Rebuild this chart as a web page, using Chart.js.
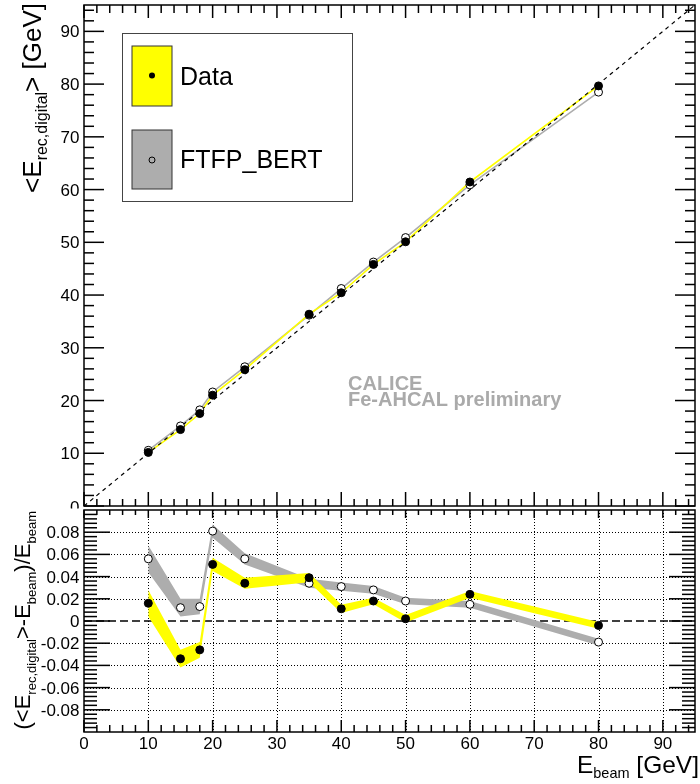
<!DOCTYPE html>
<html>
<head>
<meta charset="utf-8">
<script src="https://cdn.jsdelivr.net/npm/chart.js@4.4.0/dist/chart.umd.min.js"></script>
<style>
  body { margin: 0; background: #fff; }
  #wrap { position: relative; width: 700px; height: 784px; }
  canvas { position: absolute; left: 0; }
</style>
</head>
<body>
<div id="wrap">
  <canvas id="topChart" width="700" height="511" style="top:0"></canvas>
  <canvas id="ratioChart" width="700" height="284" style="top:500px"></canvas>
</div>
<script>
// beam energies (GeV)
const beamEnergy = [10, 15, 18, 20, 25, 35, 40, 45, 50, 60, 80];

// mean reconstructed energy, top panel (GeV)
const dataMean = [10.16, 14.49, 17.53, 21.02, 25.85, 36.37, 40.44, 45.81, 50.10, 61.44, 79.66];
const mcMean   = [10.56, 15.18, 18.23, 21.62, 26.40, 36.19, 41.24, 46.26, 50.90, 60.90, 78.48];

// relative deviation, bottom panel
const dataRatio    = [0.016, -0.034, -0.026, 0.051, 0.034, 0.039, 0.011, 0.018, 0.002, 0.024, -0.004];
const dataRatioErr = [0.012, 0.008, 0.007, 0.006, 0.005, 0.0042, 0.0037, 0.003, 0.0033, 0.003, 0.003];
const mcRatio      = [0.056, 0.012, 0.013, 0.081, 0.056, 0.034, 0.031, 0.028, 0.018, 0.015, -0.019];
const mcRatioErr   = [0.012, 0.008, 0.007, 0.006, 0.005, 0.004, 0.0037, 0.0035, 0.003, 0.003, 0.003];

// reference lines
const diagX = [0, 95];
const diagY = [0, 95];
const zeroX = [0, 95];
const zeroY = [0, 0];

// tick labels
const xTickLabels = [0, 10, 20, 30, 40, 50, 60, 70, 80, 90];
const topTickLabels = [0, 10, 20, 30, 40, 50, 60, 70, 80, 90];
const ratioTicks = [0.08, 0.06, 0.04, 0.02, 0, -0.02, -0.04, -0.06, -0.08];
const ratioTickLabels = ['0.08', '0.06', '0.04', '0.02', '0', '-0.02', '-0.04', '-0.06', '-0.08'];

const FONT = "'Liberation Sans', Arial, Helvetica, sans-serif";
const YELLOW = '#ffff00';
const GREY = '#adadad';

function pts(xs, ys) {
  return xs.map((x, i) => ({ x: x, y: ys[i] }));
}

function line(ctx, x1, y1, x2, y2) {
  ctx.beginPath();
  ctx.moveTo(x1, y1);
  ctx.lineTo(x2, y2);
  ctx.stroke();
}

// text with subscripts: parts = [{t, size, dy}]
function richWidth(ctx, parts) {
  let w = 0;
  parts.forEach(p => {
    ctx.font = p.size + 'px ' + FONT;
    w += ctx.measureText(p.t).width;
  });
  return w;
}

function drawRich(ctx, parts, x, y, angle) {
  ctx.save();
  ctx.translate(x, y);
  ctx.rotate(angle);
  ctx.fillStyle = '#000';
  ctx.textBaseline = 'alphabetic';
  ctx.textAlign = 'left';
  let cx = 0;
  parts.forEach(p => {
    ctx.font = p.size + 'px ' + FONT;
    ctx.fillText(p.t, cx, p.dy || 0);
    cx += ctx.measureText(p.t).width;
  });
  ctx.restore();
}

const topDecor = {
  id: 'topDecor',
  afterDraw(chart) {
    const ctx = chart.ctx, a = chart.chartArea;
    const xs = chart.scales.x, ys = chart.scales.y;
    ctx.save();
    ctx.strokeStyle = '#000';
    ctx.lineWidth = 1.5;
    ctx.strokeRect(a.left, a.top, a.right - a.left, a.bottom - a.top);
    for (let v = 0; v <= 94; v += 2) {
      const big = v % 10 === 0;
      const px = xs.getPixelForValue(v);
      line(ctx, px, a.top, px, a.top + (big ? 13 : 8));
      line(ctx, px, a.bottom, px, a.bottom - (big ? 14 : 7));
      const py = ys.getPixelForValue(v);
      line(ctx, a.left, py, a.left + (big ? 20 : 10), py);
      line(ctx, a.right, py, a.right - (big ? 20 : 10), py);
    }

    // y tick labels ("0" is cut by the lower pad)
    ctx.fillStyle = '#000';
    ctx.font = '17px ' + FONT;
    ctx.textAlign = 'right';
    ctx.textBaseline = 'alphabetic';
    topTickLabels.forEach(v => {
      const py = ys.getPixelForValue(v);
      if (v === 0) {
        ctx.save();
        ctx.beginPath();
        ctx.rect(0, 0, 84, 508.5);
        ctx.clip();
        ctx.fillText(String(v), 79.5, py + 6.5);
        ctx.restore();
      } else {
        ctx.fillText(String(v), 79.5, py + 6);
      }
    });

    // y title
    const yTitle = [
      { t: '<E', size: 26 },
      { t: 'rec,digital', size: 16, dy: 6.5 },
      { t: '> [GeV]', size: 26 }
    ];
    const w = richWidth(ctx, yTitle);
    drawRich(ctx, yTitle, 40.5, 3 + w, -Math.PI / 2);

    // legend
    ctx.lineWidth = 1;
    ctx.strokeStyle = '#444';
    ctx.fillStyle = '#fff';
    ctx.fillRect(122.5, 33.5, 230, 168);
    ctx.strokeRect(122.5, 33.5, 230, 168);
    ctx.strokeStyle = '#333';
    ctx.fillStyle = YELLOW;
    ctx.fillRect(132, 46, 40, 60);
    ctx.strokeRect(132, 46, 40, 60);
    ctx.fillStyle = GREY;
    ctx.fillRect(132, 130, 40, 59);
    ctx.strokeRect(132, 130, 40, 59);
    ctx.fillStyle = '#000';
    ctx.beginPath();
    ctx.arc(152, 75.5, 3, 0, Math.PI * 2);
    ctx.fill();
    ctx.beginPath();
    ctx.strokeStyle = '#000';
    ctx.arc(152, 160, 3, 0, Math.PI * 2);
    ctx.stroke();
    ctx.font = '25px ' + FONT;
    ctx.textAlign = 'left';
    ctx.textBaseline = 'alphabetic';
    ctx.fillText('Data', 180, 85);
    ctx.fillText('FTFP_BERT', 180, 168.3);

    // preliminary label
    ctx.fillStyle = '#aaaaaa';
    ctx.font = 'bold 20px ' + FONT;
    ctx.fillText('CALICE', 348, 390);
    ctx.fillText('Fe-AHCAL preliminary', 348, 405.7);
    ctx.restore();
  }
};

const ratioDecor = {
  id: 'ratioDecor',
  beforeDatasetsDraw(chart) {
    const ctx = chart.ctx, a = chart.chartArea;
    const xs = chart.scales.x, ys = chart.scales.y;
    ctx.save();
    ctx.strokeStyle = '#000';
    ctx.lineWidth = 1;
    ctx.setLineDash([1, 2]);
    for (let v = 10; v <= 90; v += 10) {
      const px = Math.round(xs.getPixelForValue(v)) + 0.5;
      line(ctx, px, a.top, px, a.bottom);
    }
    ratioTicks.forEach(v => {
      if (v === 0) return;
      const py = Math.round(ys.getPixelForValue(v)) + 0.5;
      line(ctx, a.left, py, a.right, py);
    });
    ctx.restore();
  },
  afterDraw(chart) {
    const ctx = chart.ctx, a = chart.chartArea;
    const xs = chart.scales.x, ys = chart.scales.y;
    ctx.save();
    ctx.strokeStyle = '#000';
    ctx.lineWidth = 1.5;
    ctx.strokeRect(a.left, a.top, a.right - a.left, a.bottom - a.top);
    for (let v = 0; v <= 94; v += 2) {
      const big = v % 10 === 0;
      const px = xs.getPixelForValue(v);
      line(ctx, px, a.top, px, a.top + (big ? 8 : 5));
      line(ctx, px, a.bottom, px, a.bottom - (big ? 12 : 7));
    }
    for (let i = -24; i <= 24; i++) {
      const big = i % 5 === 0;
      const py = ys.getPixelForValue(i * 0.004);
      line(ctx, a.left, py, a.left + (big ? 26 : 13), py);
      line(ctx, a.right, py, a.right - (big ? 26 : 13), py);
    }

    ctx.fillStyle = '#000';
    ctx.font = '17px ' + FONT;
    ctx.textAlign = 'right';
    ctx.textBaseline = 'alphabetic';
    ratioTicks.forEach((v, i) => {
      ctx.fillText(ratioTickLabels[i], 79.5, ys.getPixelForValue(v) + 6);
    });
    ctx.textAlign = 'center';
    xTickLabels.forEach(v => {
      ctx.fillText(String(v), xs.getPixelForValue(v), 248.5);
    });

    // x title
    const xTitle = [
      { t: 'E', size: 24.5 },
      { t: 'beam', size: 14.5, dy: 5.5 },
      { t: ' [GeV]', size: 24.5 }
    ];
    const xw = richWidth(ctx, xTitle);
    drawRich(ctx, xTitle, 699 - xw, 272.7, 0);

    // y title
    const yTitle = [
      { t: '(<E', size: 22 },
      { t: 'rec,digital', size: 13, dy: 6 },
      { t: '>-E', size: 22 },
      { t: 'beam', size: 13, dy: 6 },
      { t: ')/E', size: 22 },
      { t: 'beam', size: 13, dy: 6 }
    ];
    const yw = richWidth(ctx, yTitle);
    drawRich(ctx, yTitle, 30, 11 + yw, -Math.PI / 2);
    ctx.restore();
  }
};

const noBorder = 'rgba(0,0,0,0)';

new Chart(document.getElementById('topChart'), {
  type: 'line',
  data: {
    datasets: [
      {
        data: pts(beamEnergy, mcMean),
        borderColor: GREY, borderWidth: 1.6,
        pointRadius: 0, tension: 0, order: 5
      },
      {
        data: pts(beamEnergy, dataMean),
        borderColor: YELLOW, borderWidth: 1.6,
        pointRadius: 0, tension: 0, order: 4
      },
      {
        data: pts(diagX, diagY),
        borderColor: '#000', borderWidth: 1.2, borderDash: [4, 4],
        pointRadius: 0, tension: 0, order: 3
      },
      {
        data: pts(beamEnergy, mcMean),
        showLine: false, pointRadius: 4, pointBorderWidth: 1,
        pointBackgroundColor: '#fff', pointBorderColor: '#000', order: 2
      },
      {
        data: pts(beamEnergy, dataMean),
        showLine: false, pointRadius: 4, pointBorderWidth: 1,
        pointBackgroundColor: '#000', pointBorderColor: '#000', order: 1
      }
    ]
  },
  options: {
    responsive: false,
    animation: false,
    events: [],
    layout: { padding: { left: 84, right: 1, top: 5, bottom: 1 } },
    scales: {
      x: { type: 'linear', min: 0, max: 95, display: false },
      y: { type: 'linear', min: 0, max: 95, display: false }
    },
    plugins: { legend: { display: false }, tooltip: { enabled: false } }
  },
  plugins: [topDecor]
});

new Chart(document.getElementById('ratioChart'), {
  type: 'line',
  data: {
    datasets: [
      {
        data: pts(beamEnergy, dataRatio.map((r, i) => r + dataRatioErr[i])),
        fill: '+1', backgroundColor: YELLOW, borderColor: noBorder, borderWidth: 0,
        pointRadius: 0, tension: 0, order: 4
      },
      {
        data: pts(beamEnergy, dataRatio.map((r, i) => r - dataRatioErr[i])),
        fill: false, borderColor: noBorder, borderWidth: 0,
        pointRadius: 0, tension: 0, order: 4
      },
      {
        data: pts(beamEnergy, mcRatio.map((r, i) => r + mcRatioErr[i])),
        fill: '+1', backgroundColor: GREY, borderColor: noBorder, borderWidth: 0,
        pointRadius: 0, tension: 0, order: 5
      },
      {
        data: pts(beamEnergy, mcRatio.map((r, i) => r - mcRatioErr[i])),
        fill: false, borderColor: noBorder, borderWidth: 0,
        pointRadius: 0, tension: 0, order: 5
      },
      {
        data: pts(zeroX, zeroY),
        borderColor: '#000', borderWidth: 1.5, borderDash: [8, 4],
        pointRadius: 0, tension: 0, order: 6
      },
      {
        data: pts(beamEnergy, mcRatio),
        showLine: false, pointRadius: 4, pointBorderWidth: 1,
        pointBackgroundColor: '#fff', pointBorderColor: '#000', order: 2
      },
      {
        data: pts(beamEnergy, dataRatio),
        showLine: false, pointRadius: 4, pointBorderWidth: 1,
        pointBackgroundColor: '#000', pointBorderColor: '#000', order: 1
      }
    ]
  },
  options: {
    responsive: false,
    animation: false,
    events: [],
    layout: { padding: { left: 84, right: 1, top: 10, bottom: 52 } },
    scales: {
      x: { type: 'linear', min: 0, max: 95, display: false },
      y: { type: 'linear', min: -0.1, max: 0.1, display: false }
    },
    plugins: { legend: { display: false }, tooltip: { enabled: false } }
  },
  plugins: [ratioDecor]
});
</script>
</body>
</html>
